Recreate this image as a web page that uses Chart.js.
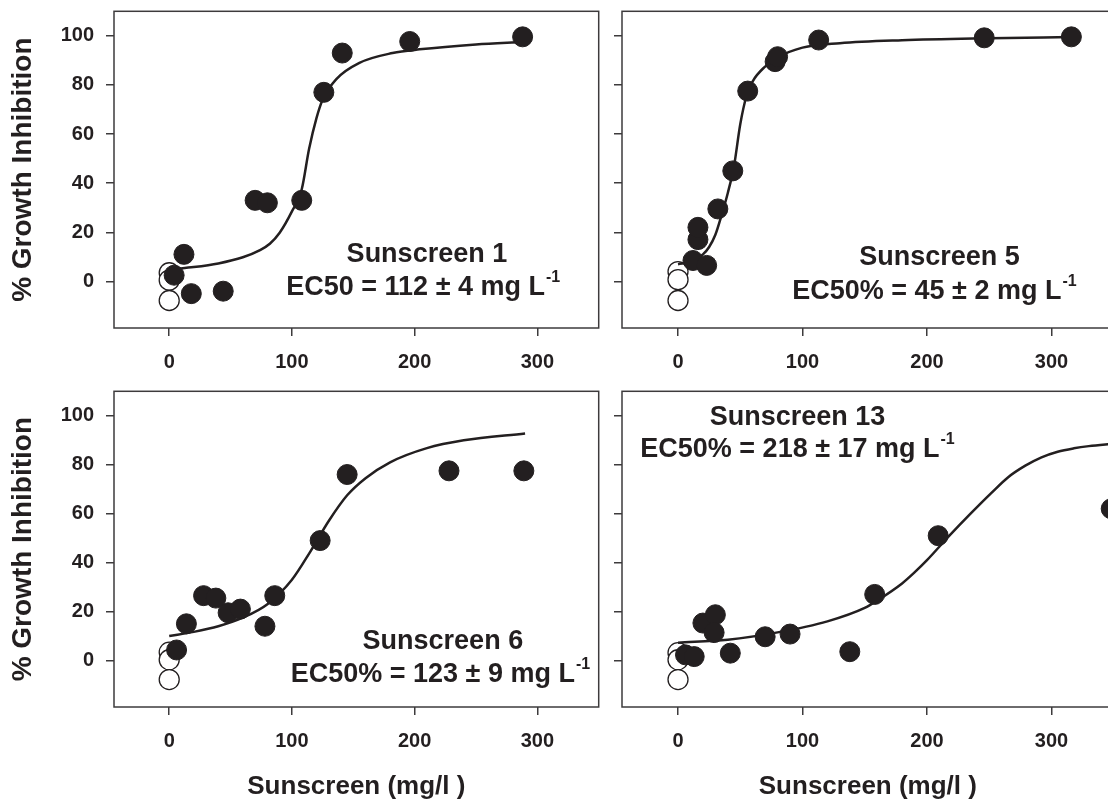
<!DOCTYPE html>
<html lang="en">
  <head>
    <meta charset="UTF-8" />
    <title>Sunscreen growth inhibition</title>
    <script src="https://cdn.jsdelivr.net/npm/chart.js"></script>
    <style>
      html,
      body {
        margin: 0;
        padding: 0;
        background: #fff;
        overflow: hidden;
        width: 1108px;
        height: 805px;
      }
      canvas {
        position: absolute;
      }
    </style>
  </head>
  <body>
    <canvas id="p1" width="610" height="380" style="left: 0; top: 0"></canvas>
    <canvas id="p2" width="515" height="380" style="left: 610px; top: 0"></canvas>
    <canvas id="p3" width="610" height="425" style="left: 0; top: 380px"></canvas>
    <canvas id="p4" width="515" height="425" style="left: 610px; top: 380px"></canvas>

    <script>
      // axis ticks
      const xTicks = [0, 100, 200, 300];
      const yTicks = [0, 20, 40, 60, 80, 100];
      const xTitle = "Sunscreen (mg/l )";
      const yTitle = "% Growth Inhibition";

      // controls (open circles) at 0 mg/l
      const ctrlX = [0, 0, 0];

      // Sunscreen 1
      const s1Name = "Sunscreen 1";
      const s1Ec = "EC50 = 112 \u00b1 4 mg L";
      const s1CtrlY = [3.5, 0.5, -7.8];
      const s1X = [4, 12, 18, 44, 70, 80, 108, 126, 141, 196, 288];
      const s1Y = [2.5, 11, -5, -4, 33, 32, 33, 77, 93, 97.7, 99.6];
      const s1FitX = [4, 20, 40, 60, 74, 82, 90, 100, 108, 114, 120, 125, 136, 155, 182, 204, 250, 288];
      const s1FitY = [5, 5.8, 7.3, 9.8, 12.7, 15.3, 19.8, 28.5, 37.5, 54, 66.5, 74, 82.3, 89, 93, 94.5, 96.5, 97.5];

      // Sunscreen 5
      const s5Name = "Sunscreen 5";
      const s5Ec = "EC50% = 45 \u00b1 2 mg L";
      const s5CtrlY = [4, 0.7, -7.8];
      const s5X = [12, 23, 16, 16, 32, 44, 56, 78, 80, 113, 246, 316];
      const s5Y = [8.5, 6.5, 17, 22, 29.5, 45, 77.5, 89.5, 91.5, 98.3, 99.2, 99.6];
      const s5FitX = [0, 10, 20, 25, 30, 35, 40, 45, 50, 55, 60, 70, 80, 100, 130, 180, 250, 316];
      const s5FitY = [7, 8, 11, 14, 19, 27, 36, 47, 64, 75.5, 81.5, 87.5, 91.2, 95.2, 97, 98.2, 99, 99.5];

      // Sunscreen 6
      const s6Name = "Sunscreen 6";
      const s6Ec = "EC50% = 123 \u00b1 9 mg L";
      const s6CtrlY = [3.4, 0.3, -7.8];
      const s6X = [6, 14, 28, 38, 48, 58, 78, 86, 123, 145, 228, 289];
      const s6Y = [4.3, 15, 26.5, 25.5, 19.5, 21, 14, 26.5, 49, 76, 77.5, 77.5];
      const s6FitX = [0, 20, 40, 60, 80, 100, 115, 130, 145, 160, 180, 210, 240, 290];
      const s6FitY = [10, 11.7, 14, 17.5, 23, 33, 44.5, 57, 67.5, 74.5, 81, 86.8, 90, 92.8];

      // Sunscreen 13
      const s13Name = "Sunscreen 13";
      const s13Ec = "EC50% = 218 \u00b1 17 mg L";
      const s13CtrlY = [3.2, 0.3, -7.8];
      const s13X = [6, 13, 20, 30, 29, 42, 70, 90, 138, 158, 209, 348];
      const s13Y = [2.3, 1.6, 15.3, 18.7, 11.4, 3, 9.7, 10.8, 3.6, 27, 51, 62];
      const s13FitX = [0, 40, 80, 120, 150, 160, 180, 190, 200, 218, 235, 252, 265, 279, 292, 305, 318, 330, 350];
      const s13FitY = [7.3, 8.5, 11.5, 16, 21.5, 24.5, 31.5, 36, 41, 51, 60, 68.6, 74.8, 79.6, 83, 85.3, 86.7, 87.6, 88.6];

      const ink = "#231f20";
      const frame = "#3d3b3c";
      const family = '"Liberation Sans", Arial, sans-serif';

      const pts = (xs, ys) => xs.map((x, i) => ({ x: x, y: ys[i] }));

      // frame box + panel labels with superscript
      const panelText = {
        id: "panelText",
        beforeDatasetsDraw(chart) {
          const a = chart.chartArea;
          const ctx = chart.ctx;
          ctx.save();
          ctx.strokeStyle = frame;
          ctx.lineWidth = 1.5;
          ctx.strokeRect(a.left, a.top, a.right - a.left, a.bottom - a.top);
          ctx.restore();
        },
        afterDatasetsDraw(chart, args, opts) {
          const ctx = chart.ctx;
          const sx = chart.scales.x;
          const sy = chart.scales.y;
          const big = "bold 27px " + family;
          const small = "bold 16px " + family;
          ctx.save();
          ctx.fillStyle = ink;
          ctx.textBaseline = "middle";
          ctx.textAlign = "center";
          ctx.font = big;
          ctx.fillText(opts.name, sx.getPixelForValue(opts.nameAt[0]), sy.getPixelForValue(opts.nameAt[1]));

          const sup = "-1";
          const wMain = ctx.measureText(opts.ec).width;
          ctx.font = small;
          const wSup = ctx.measureText(sup).width;
          const cx = sx.getPixelForValue(opts.ecAt[0]);
          const cy = sy.getPixelForValue(opts.ecAt[1]);
          const x0 = cx - (wMain + wSup + 1) / 2;
          ctx.textAlign = "left";
          ctx.font = big;
          ctx.fillText(opts.ec, x0, cy);
          ctx.font = small;
          ctx.fillText(sup, x0 + wMain + 1, cy - 10);
          ctx.restore();
        },
      };

      function makePanel(id, p) {
        const tickFont = { family: family, size: 20, weight: "bold" };
        return new Chart(document.getElementById(id), {
          type: "scatter",
          data: {
            datasets: [
              {
                data: pts(p.fitX, p.fitY),
                showLine: true,
                pointRadius: 0,
                borderColor: ink,
                borderWidth: 2.5,
                cubicInterpolationMode: "monotone",
                order: 2,
              },
              {
                data: pts(p.x, p.y),
                pointRadius: 10,
                pointBackgroundColor: ink,
                pointBorderColor: ink,
                pointBorderWidth: 1,
                order: 1,
              },
              {
                data: pts(ctrlX, p.ctrlY),
                pointRadius: 10,
                pointBackgroundColor: "#ffffff",
                pointBorderColor: ink,
                pointBorderWidth: 1.3,
                order: 3,
              },
            ],
          },
          options: {
            responsive: false,
            animation: false,
            layout: { padding: { top: p.padTop, right: p.padRight, left: 0, bottom: 0 } },
            plugins: {
              legend: { display: false },
              tooltip: { enabled: false },
              panelText: { name: p.name, nameAt: p.nameAt, ec: p.ec, ecAt: p.ecAt },
            },
            scales: {
              x: {
                type: "linear",
                min: -45,
                max: 350,
                afterBuildTicks: (s) => {
                  s.ticks = xTicks.map((v) => ({ value: v }));
                },
                afterFit: (s) => {
                  s.height = p.xHeight;
                  s.paddingLeft = 0;
                  s.paddingRight = 0;
                },
                grid: { drawOnChartArea: false, drawTicks: true, tickLength: 8, color: frame, lineWidth: 1.5 },
                border: { display: false },
                ticks: { color: ink, font: tickFont, padding: 14, maxRotation: 0 },
                title: {
                  display: p.showXTitle,
                  text: xTitle,
                  color: ink,
                  font: { family: family, size: 26, weight: "bold" },
                  padding: { top: 0, bottom: 3 },
                },
              },
              y: {
                type: "linear",
                min: -19,
                max: 110,
                afterBuildTicks: (s) => {
                  s.ticks = yTicks.map((v) => ({ value: v }));
                },
                afterFit: (s) => {
                  s.width = p.yWidth;
                  s.paddingTop = 0;
                  s.paddingBottom = 0;
                },
                grid: { drawOnChartArea: false, drawTicks: true, tickLength: 8, color: frame, lineWidth: 1.5 },
                border: { display: false },
                ticks: { display: p.showYLabels, color: ink, font: tickFont, padding: 12 },
                title: {
                  display: p.showYLabels,
                  text: yTitle,
                  color: ink,
                  font: { family: family, size: 28, weight: "bold" },
                  padding: { top: 6, bottom: 0 },
                },
              },
            },
          },
          plugins: [panelText],
        });
      }

      makePanel("p1", {
        x: s1X, y: s1Y, fitX: s1FitX, fitY: s1FitY, ctrlY: s1CtrlY,
        name: s1Name, nameAt: [210, 11], ec: s1Ec, ecAt: [207, -2.4],
        padTop: 10, padRight: 10, xHeight: 52, yWidth: 114, showYLabels: true, showXTitle: false,
      });
      makePanel("p2", {
        x: s5X, y: s5Y, fitX: s5FitX, fitY: s5FitY, ctrlY: s5CtrlY,
        name: s5Name, nameAt: [210, 9.7], ec: s5Ec, ecAt: [206, -4],
        padTop: 10, padRight: 9, xHeight: 52, yWidth: 12, showYLabels: false, showXTitle: false,
      });
      makePanel("p3", {
        x: s6X, y: s6Y, fitX: s6FitX, fitY: s6FitY, ctrlY: s6CtrlY,
        name: s6Name, nameAt: [223, 7.7], ec: s6Ec, ecAt: [221, -5.7],
        padTop: 8, padRight: 10, xHeight: 98, yWidth: 114, showYLabels: true, showXTitle: true,
      });
      makePanel("p4", {
        x: s13X, y: s13Y, fitX: s13FitX, fitY: s13FitY, ctrlY: s13CtrlY,
        name: s13Name, nameAt: [96, 99.3], ec: s13Ec, ecAt: [96, 86],
        padTop: 8, padRight: 9, xHeight: 98, yWidth: 12, showYLabels: false, showXTitle: true,
      });
    </script>
  </body>
</html>
